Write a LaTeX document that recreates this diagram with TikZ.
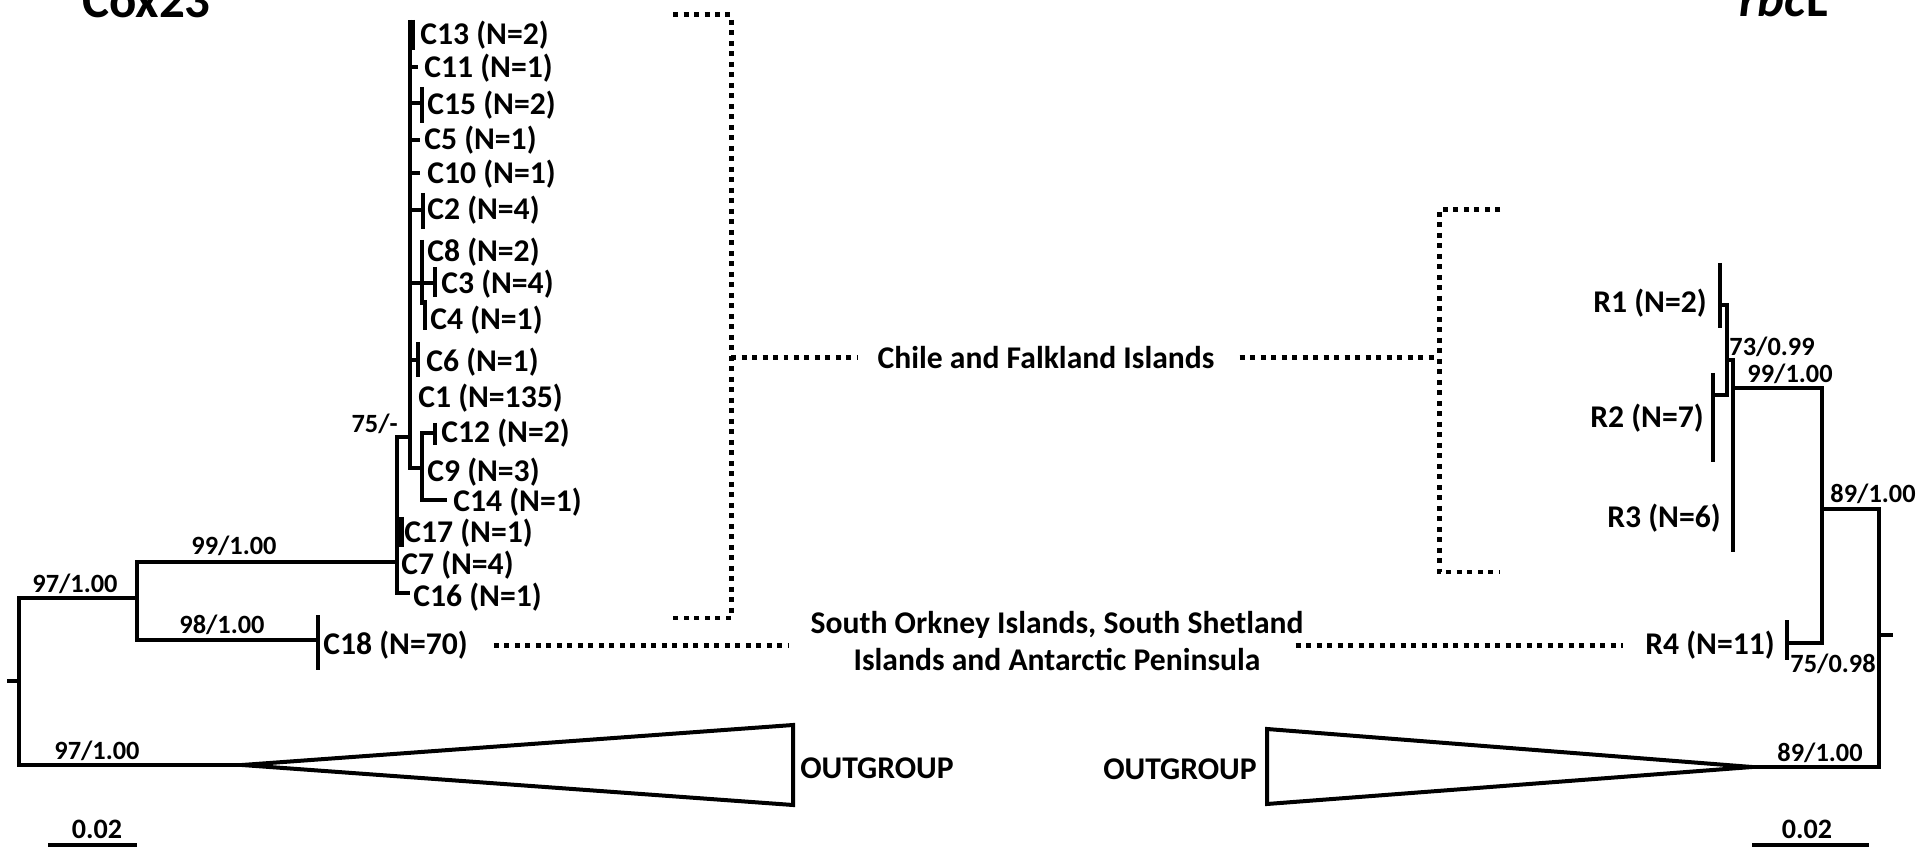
\documentclass[tikz,border=0pt]{standalone}
\usepackage{fontspec}
\setmainfont{Carlito}

\begin{document}
\begin{tikzpicture}[x=0.02cm, y=-0.02cm,
        branch/.style={line width=0.08cm},
        thickbar/.style={line width=0.14cm},
        dotline/.style={line width=0.1cm, dash pattern=on 0.1cm off 0.11cm},
        leaf/.style={inner sep=0pt, font=\fontsize{18}{21.5}\selectfont\bfseries},
        boot/.style={inner sep=0pt, anchor=base, font=\fontsize{15}{17}\selectfont\bfseries},
        heading/.style={inner sep=0pt, font=\fontsize{29}{32}\selectfont\bfseries}]
        \useasboundingbox (0,0) rectangle (1917,847);

        % Titres
        \node[heading, anchor=base west] (titlecox) at (82,18) {Cox23};
        \node[heading, anchor=base east] (titlerbc) at (1828,17) {\textit{rbc}L};

        % Arbre Cox23
        \draw[branch] (7,681) -- (19,681);
        \draw[branch] (137,598) -| (19,765) -- (242,765);
        \draw[branch] (397,562) -| (137,640) -- (318,640);
        \draw[branch] (318,615) -- (318,670);
        \draw[branch] (410,437) -| (397,593) -- (410,593);
        \draw[thickbar] (400,517) -- (400,547);
        \draw[branch] (410,20) -- (410,468) -- (422,468);
        \draw[thickbar] (411.5,20) -- (411.5,50);
        \draw[branch] (410,67) -- (418,67);
        \draw[branch] (410,103) -- (422,103) (422,87) -- (422,123);
        \draw[branch] (410,140) -- (420,140);
        \draw[branch] (410,173) -- (420,173);
        \draw[branch] (410,210) -- (423,210) (423,193) -- (423,229);
        \draw[branch] (410,283) -- (435,283) (435,267) -- (435,297);
        \draw[branch] (422,240) -- (422,303) -- (425,303) (425,300) -- (425,330);
        \draw[branch] (410,360) -- (418,360) (418,342) -- (418,377);
        \draw[branch] (435,433) -| (422,500) -- (447,500);
        \draw[branch] (435,423) -- (435,445);

        % Groupe externe Cox23
        \draw[branch, line join=miter] (242,765) -- (793,725) -- (793,805) -- cycle;
        \node[leaf, anchor=west] (outcox) at (800,768) {OUTGROUP};

        % Valeurs de soutien Cox23
        \node[boot] (b97a) at (75,593) {97/1.00};
        \node[boot] (b99a) at (234,555) {99/1.00};
        \node[boot] (b98a) at (222,633) {98/1.00};
        \node[boot] (b97b) at (97,759) {97/1.00};
        \node[boot, anchor=base east] (b75a) at (398,433) {75/-};

        % Haplotypes Cox23
        \foreach \nm/\xx/\yy/\lab in {c13/420/35/C13 (N=2), c11/424/68/C11 (N=1),
            c15/427/105/C15 (N=2), c5/424/140/C5 (N=1), c10/427/174/C10 (N=1),
            c2/427/210/C2 (N=4), c8/427/252/C8 (N=2), c3/441/284/C3 (N=4),
            c4/430/320/C4 (N=1), c6/426/362/C6 (N=1), c1/418/398/C1 (N=135),
            c12/441/433/C12 (N=2), c9/427/472/C9 (N=3), c14/453/502/C14 (N=1),
            c17/404/533/C17 (N=1), c7/401/565/C7 (N=4), c16/413/597/C16 (N=1),
            c18/323/645/C18 (N=70)} {
            \node[leaf, anchor=west] (\nm) at (\xx,\yy) {\lab};
        }

        % Arbre rbcL
        \draw[branch] (1720,263) -- (1720,328);
        \draw[branch] (1720,305) -| (1727,395) -- (1713,395);
        \draw[branch] (1713,373) -- (1713,462);
        \draw[branch] (1727,360) -- (1733,360) -- (1733,552);
        \draw[branch] (1733,388) -| (1822,643) -- (1787,643);
        \draw[branch] (1787,620) -- (1787,660);
        \draw[branch] (1822,509) -| (1879,767) -- (1752,767);
        \draw[branch] (1879,635) -- (1893,635);

        % Groupe externe rbcL
        \draw[branch, line join=miter] (1752,767) -- (1267,729) -- (1267,804) -- cycle;
        \node[leaf, anchor=east] (outrbc) at (1257,769) {OUTGROUP};

        % Valeurs de soutien rbcL
        \node[boot] (b73r) at (1772,356) {73/0.99};
        \node[boot] (b99r) at (1790,383) {99/1.00};
        \node[boot] (b89r) at (1873,503) {89/1.00};
        \node[boot] (b75r) at (1833,672) {75/0.98};
        \node[boot] (b89s) at (1820,761) {89/1.00};

        % Haplotypes rbcL
        \foreach \nm/\xx/\yy/\lab in {r1/1707/303/R1 (N=2), r2/1704/418/R2 (N=7),
            r3/1721/518/R3 (N=6), r4/1775/645/R4 (N=11)} {
            \node[leaf, anchor=east] (\nm) at (\xx,\yy) {\lab};
        }

        % Regions
        \coordinate (lbrack) at (731,358);
        \coordinate (rbrack) at (1439,358);
        \draw[dotline] (673,15) -- (731,15) -- (731,618) -- (673,618);
        \draw[dotline] (1500,210) -- (1439,210) -- (1439,572) -- (1500,572);
        \node[leaf] (chile) at (1046,358) {Chile and Falkland Islands};
        \node[leaf, align=center] (south) at (1057,641) {South Orkney Islands, South Shetland\\Islands and Antarctic Peninsula};
        \draw[dotline, shorten >=0.38cm] (lbrack) -- (chile.west);
        \draw[dotline, shorten <=0.5cm] (chile.east) -- (rbrack);
        \draw[dotline, shorten <=0.52cm, shorten >=0.42cm] (c18.east) -- (c18.east -| south.west);
        \draw[dotline, shorten <=-0.16cm, shorten >=0.44cm] (r4.west -| south.east) -- (r4.west);

        % Echelles
        \node[boot, font=\fontsize{16}{18}\selectfont\bfseries] (scalecox) at (97,838) {0.02};
        \draw[branch] (48,845) -- (137,845);
        \node[boot, font=\fontsize{16}{18}\selectfont\bfseries] (scalerbc) at (1807,838) {0.02};
        \draw[branch] (1752,845) -- (1869,845);
    \end{tikzpicture}
\end{document}
